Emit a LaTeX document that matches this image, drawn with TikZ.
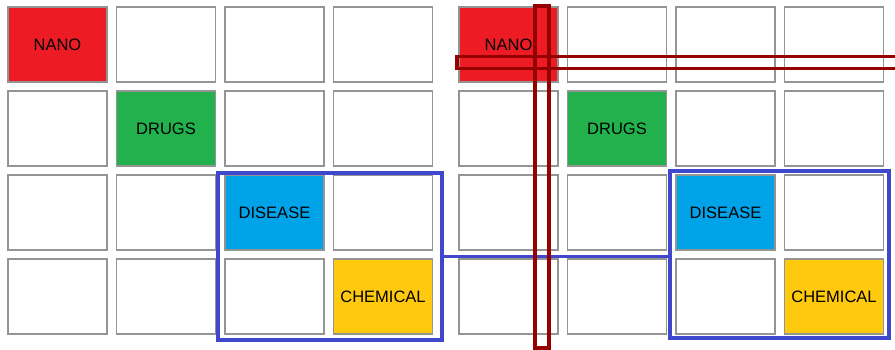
\documentclass[tikz,border=0pt]{standalone}
\usepackage{fontspec}
\setmainfont{Liberation Sans}
\usetikzlibrary{positioning}
\definecolor{nanored}{HTML}{ED1C24}
\definecolor{drugsgreen}{HTML}{22B14C}
\definecolor{diseaseblue}{HTML}{00A2E8}
\definecolor{chemyellow}{HTML}{FFC90E}
\definecolor{frameblue}{HTML}{3F48CC}
\definecolor{bardark}{HTML}{950000}

\begin{document}
\begin{tikzpicture}[x=1pt, y=-1pt,
        cell/.style={draw=black!42, line width=1.4pt, rectangle, minimum width=99pt, minimum height=75pt, inner sep=0pt, outer sep=0pt, fill=white, text depth=-2pt, font=\fontsize{16.5}{18}\selectfont},
        frame/.style={draw=frameblue, line width=3.2pt, rectangle, inner sep=0pt, outer sep=0pt},
        bar/.style={draw=bardark, line width=3.2pt, rectangle, inner sep=0pt, outer sep=0pt}
    ]
        \useasboundingbox (0,0) rectangle (895,349);

        % Left grid
        \node[cell, fill=nanored] (l_11) at (57.5, 44.5) {NANO};
        \node[cell, right=9.5pt of l_11] (l_12) {};
        \node[cell, right=9.5pt of l_12] (l_13) {};
        \node[cell, right=9.5pt of l_13] (l_14) {};

        \node[cell] (l_21) at (57.5, 128.5) {};
        \node[cell, fill=drugsgreen, right=9.5pt of l_21] (l_22) {DRUGS};
        \node[cell, right=9.5pt of l_22] (l_23) {};
        \node[cell, right=9.5pt of l_23] (l_24) {};

        \node[cell] (l_31) at (57.5, 212.5) {};
        \node[cell, right=9.5pt of l_31] (l_32) {};
        \node[cell, fill=diseaseblue, right=9.5pt of l_32] (l_33) {DISEASE};
        \node[cell, right=9.5pt of l_33] (l_34) {};

        \node[cell] (l_41) at (57.5, 296.5) {};
        \node[cell, right=9.5pt of l_41] (l_42) {};
        \node[cell, right=9.5pt of l_42] (l_43) {};
        \node[cell, fill=chemyellow, right=9.5pt of l_43] (l_44) {CHEMICAL};

        % Right grid
        \node[cell, fill=nanored] (r_11) at (508.5, 44.5) {NANO};
        \node[cell, right=9.5pt of r_11] (r_12) {};
        \node[cell, right=9.5pt of r_12] (r_13) {};
        \node[cell, right=9.5pt of r_13] (r_14) {};

        \node[cell] (r_21) at (508.5, 128.5) {};
        \node[cell, fill=drugsgreen, right=9.5pt of r_21] (r_22) {DRUGS};
        \node[cell, right=9.5pt of r_22] (r_23) {};
        \node[cell, right=9.5pt of r_23] (r_24) {};

        \node[cell] (r_31) at (508.5, 212.5) {};
        \node[cell, right=9.5pt of r_31] (r_32) {};
        \node[cell, fill=diseaseblue, right=9.5pt of r_32] (r_33) {DISEASE};
        \node[cell, right=9.5pt of r_33] (r_34) {};

        \node[cell] (r_41) at (508.5, 296.5) {};
        \node[cell, right=9.5pt of r_41] (r_42) {};
        \node[cell, right=9.5pt of r_42] (r_43) {};
        \node[cell, fill=chemyellow, right=9.5pt of r_43] (r_44) {CHEMICAL};

        % Selection frames
        \node[frame, minimum width=224pt, minimum height=167pt] (frameL) at (330, 256.5) {};
        \node[frame, minimum width=219pt, minimum height=167pt] (frameR) at (779.5, 254.5) {};
        \draw[frameblue, line width=3pt] (frameL.east) -- (frameL.east -| frameR.west);

        % Cross bars
        \node[bar, minimum width=14pt, minimum height=342pt] (vbar) at (542, 177) {};
        \node[bar, minimum width=445pt, minimum height=12pt] (hbar) at (679.5, 62.5) {};

    \end{tikzpicture}
\end{document}
